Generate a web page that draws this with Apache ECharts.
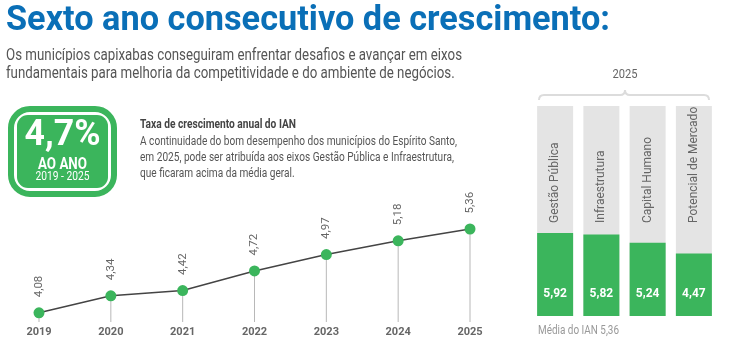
<!DOCTYPE html>
<html>
<head>
<meta charset="utf-8">
<script src="https://cdn.jsdelivr.net/npm/echarts@6/dist/echarts.min.js"></script>
<style>
  html, body { margin: 0; padding: 0; background: #fff; }
  #main { width: 736px; height: 352px; }
</style>
</head>
<body>
<div id="main"></div>
<script>
// dados
var anos = ['2019', '2020', '2021', '2022', '2023', '2024', '2025'];
var ian = [4.08, 4.34, 4.42, 4.72, 4.97, 5.18, 5.36];
var eixos = ['Gestão Pública', 'Infraestrutura', 'Capital Humano', 'Potencial de Mercado'];
var notas2025 = [5.92, 5.82, 5.24, 4.47];
var escalaMax = 15;

var FONTE = 'Roboto, sans-serif';
var VERDE = '#3bb55c';

function virgula(v) {
    return v.toFixed(2).replace('.', ',');
}

// sem fonte condensada instalada: aperta o texto ate a largura do original
var ctx = document.createElement('canvas').getContext('2d');
function largura(txt, font) {
    ctx.font = font;
    return Math.max.apply(null, txt.split('\n').map(function (l) {
        return ctx.measureText(l).width;
    }));
}
function texto(txt, x, y, font, alvo, estilo) {
    var st = { text: txt, font: font, verticalAlign: 'middle' };
    for (var k in estilo) st[k] = estilo[k];
    return { type: 'text', x: x, y: y, scaleX: alvo / largura(txt, font), style: st };
}

window.onload = function () {
    var chartDom = document.getElementById('main');
    var myChart = echarts.init(chartDom);
    var option;

    var chave = { fill: 'none', stroke: '#dcdcdc', lineWidth: 2 };

    option = {
        animation: false,
        textStyle: { fontFamily: FONTE },
        graphic: [
            texto('Sexto ano consecutivo de crescimento:', 6, 21, 'bold 35px ' + FONTE, 604,
                { fill: '#0a6fb7' }),
            texto('Os municípios capixabas conseguiram enfrentar desafios e avançar em eixos\nfundamentais para melhoria da competitividade e do ambiente de negócios.',
                6, 65, '16px ' + FONTE, 456, { fill: '#555', lineHeight: 18 }),
            // selo 4,7%
            {
                type: 'rect', shape: { x: 11, y: 109, width: 103, height: 85, r: 19 },
                style: { fill: 'none', stroke: VERDE, lineWidth: 6 }
            },
            {
                type: 'rect', shape: { x: 17, y: 115, width: 91, height: 73, r: 11 },
                style: { fill: VERDE }
            },
            texto('4,7%', 62.5, 136, 'bold 36px ' + FONTE, 76, { fill: '#fff', align: 'center' }),
            texto('AO ANO', 62.5, 164.5, 'bold 17px ' + FONTE, 49, { fill: '#fff', align: 'center' }),
            texto('2019 - 2025', 62.5, 177, '12px ' + FONTE, 54, { fill: '#fff', align: 'center' }),
            texto('Taxa de crescimento anual do IAN', 140, 125, 'bold 12.5px ' + FONTE, 156,
                { fill: '#444' }),
            texto('A continuidade do bom desempenho dos municípios do Espírito Santo,\nem 2025, pode ser atribuída aos eixos Gestão Pública e Infraestrutura,\nque ficaram acima da média geral.',
                140, 158, '12.5px ' + FONTE, 317, { fill: '#555', lineHeight: 16 }),
            // 2025 + chave
            texto('2025', 625, 75, '13px ' + FONTE, 25, { fill: '#666', align: 'center' }),
            { type: 'bezierCurve', shape: { x1: 539, y1: 100, cpx1: 539, cpy1: 95, x2: 544, y2: 95 }, style: chave },
            { type: 'line', shape: { x1: 544, y1: 95, x2: 620, y2: 95 }, style: chave },
            { type: 'bezierCurve', shape: { x1: 620, y1: 95, cpx1: 625, cpy1: 95, x2: 625, y2: 90 }, style: chave },
            { type: 'bezierCurve', shape: { x1: 625, y1: 90, cpx1: 625, cpy1: 95, x2: 630, y2: 95 }, style: chave },
            { type: 'line', shape: { x1: 630, y1: 95, x2: 704, y2: 95 }, style: chave },
            { type: 'bezierCurve', shape: { x1: 704, y1: 95, cpx1: 709, cpy1: 95, x2: 709, y2: 100 }, style: chave },
            texto('Média do IAN 5,36', 538, 331, '12px ' + FONTE, 81, { fill: '#999' })
        ],
        grid: [
            { left: 39, right: 266, top: 210, bottom: 30 },
            { left: 532, width: 185, top: 106, bottom: 36 }
        ],
        xAxis: [
            {
                type: 'category', gridIndex: 0, data: anos, boundaryGap: false,
                axisLine: { show: false }, axisTick: { show: false },
                axisLabel: { color: '#666', fontWeight: 'bold', fontSize: 11, margin: 5 }
            },
            {
                type: 'category', gridIndex: 1, data: eixos,
                axisLine: { show: false }, axisTick: { show: false }, axisLabel: { show: false }
            }
        ],
        yAxis: [
            {
                type: 'value', gridIndex: 0, min: 3.94, max: 5.65,
                axisLine: { show: false }, axisTick: { show: false },
                axisLabel: { show: false }, splitLine: { show: false }
            },
            {
                type: 'value', gridIndex: 1, min: 0, max: escalaMax,
                axisLine: { show: false }, axisTick: { show: false },
                axisLabel: { show: false }, splitLine: { show: false }
            }
        ],
        series: [
            {
                name: 'haste',
                type: 'bar', xAxisIndex: 0, yAxisIndex: 0,
                data: ian, barWidth: 1, silent: true,
                itemStyle: { color: '#b8b8b8' }, z: 1
            },
            {
                name: 'IAN',
                type: 'line', xAxisIndex: 0, yAxisIndex: 0,
                data: ian, symbol: 'circle', symbolSize: 11,
                lineStyle: { color: '#444', width: 1.5 },
                itemStyle: { color: VERDE },
                label: {
                    show: true, position: 'top', distance: 10, rotate: 90,
                    align: 'left', verticalAlign: 'middle',
                    color: '#666', fontSize: 11.5,
                    formatter: function (p) { return virgula(p.value); }
                },
                z: 3
            },
            {
                name: 'fundo',
                type: 'bar', xAxisIndex: 1, yAxisIndex: 1,
                data: eixos.map(function () { return escalaMax; }),
                barWidth: 36, barGap: '-100%', silent: true,
                itemStyle: { color: '#e4e4e4' },
                label: {
                    show: true, position: ['50%', '55.7%'], rotate: 90,
                    align: 'left', verticalAlign: 'middle',
                    color: '#666', fontSize: 12,
                    formatter: function (p) { return p.name; }
                }
            },
            {
                name: '2025',
                type: 'bar', xAxisIndex: 1, yAxisIndex: 1,
                data: notas2025, barWidth: 36, barGap: '-100%',
                itemStyle: { color: VERDE },
                label: {
                    show: true, position: 'insideBottom', distance: 16,
                    color: '#fff', fontWeight: 'bold', fontSize: 12,
                    formatter: function (p) { return virgula(p.value); }
                }
            }
        ]
    };

    myChart.setOption(option);
};
</script>
</body>
</html>
